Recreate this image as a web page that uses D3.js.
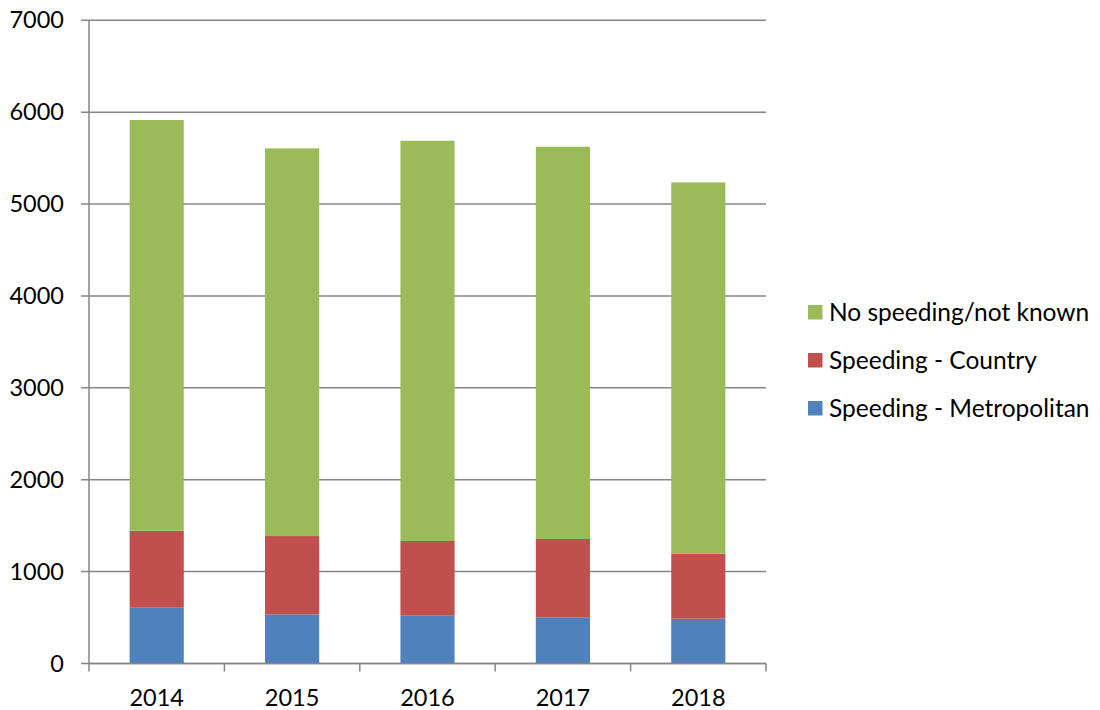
<!DOCTYPE html>
<html>
<head>
<meta charset="utf-8">
<script src="https://cdn.jsdelivr.net/npm/d3@7"></script>
<style>
  html, body { margin: 0; padding: 0; background: #fff; }
  svg text { font-family: Lato, "Open Sans", sans-serif; fill: #000; }
</style>
</head>
<body>
<svg id="chart" width="1100" height="710"></svg>
<script>
const years = ["2014", "2015", "2016", "2017", "2018"];
const metropolitan = [607, 535, 520, 503, 488];
const country = [838, 852, 813, 852, 707];
const noSpeeding = [4470, 4219, 4356, 4269, 4041];
const yTicks = [0, 1000, 2000, 3000, 4000, 5000, 6000, 7000];
const seriesNames = ["Speeding - Metropolitan", "Speeding - Country", "No speeding/not known"];
const seriesColors = ["#4F81BD", "#C0504D", "#9BBB59"];

const svg = d3.select("#chart");
const margin = { left: 89, right: 334, top: 20.3, bottom: 46.5 };
const W = 1100, H = 710;

const x = d3.scaleBand().domain(years).range([margin.left, W - margin.right]).paddingInner(0.6).paddingOuter(0.3);
const y = d3.scaleLinear().domain([0, 7000]).range([H - margin.bottom, margin.top]);

const rows = years.map((yr, i) => ({
  year: yr,
  "Speeding - Metropolitan": metropolitan[i],
  "Speeding - Country": country[i],
  "No speeding/not known": noSpeeding[i]
}));
const stack = d3.stack().keys(seriesNames)(rows);

// gridlines
const gridColor = "#868686";
svg.append("g").selectAll("line").data(yTicks).join("line")
  .attr("x1", margin.left - 8).attr("x2", W - margin.right)
  .attr("y1", d => y(d)).attr("y2", d => y(d))
  .attr("stroke", gridColor).attr("stroke-width", 1.5);

// bars
svg.append("g").selectAll("g").data(stack).join("g")
  .attr("fill", (d, i) => seriesColors[i])
  .selectAll("rect").data(d => d).join("rect")
  .attr("x", d => x(d.data.year))
  .attr("width", x.bandwidth())
  .attr("y", d => y(d[1]))
  .attr("height", d => y(d[0]) - y(d[1]));

// y axis line
svg.append("line")
  .attr("x1", margin.left).attr("x2", margin.left)
  .attr("y1", y(7000)).attr("y2", y(0))
  .attr("stroke", gridColor).attr("stroke-width", 1.5);

// x axis line & ticks at band boundaries
const step = x.step();
const boundaries = d3.range(years.length + 1).map(i => margin.left + i * step);
svg.append("line")
  .attr("x1", margin.left).attr("x2", W - margin.right)
  .attr("y1", y(0)).attr("y2", y(0))
  .attr("stroke", gridColor).attr("stroke-width", 1.5);
svg.append("g").selectAll("line").data(boundaries).join("line")
  .attr("x1", d => d).attr("x2", d => d)
  .attr("y1", y(0)).attr("y2", y(0) + 8)
  .attr("stroke", gridColor).attr("stroke-width", 1.5);

// y labels
svg.append("g").selectAll("text").data(yTicks).join("text")
  .attr("x", 64).attr("y", d => y(d) + 8)
  .attr("text-anchor", "end")
  .style("font-size", "23.5px")
  .text(d => d);

// x labels
svg.append("g").selectAll("text").data(years).join("text")
  .attr("x", d => x(d) + x.bandwidth() / 2).attr("y", 706)
  .attr("text-anchor", "middle")
  .style("font-size", "23.5px")
  .text(d => d);

// legend
const legendOrder = [2, 1, 0];
const lg = svg.append("g").selectAll("g").data(legendOrder).join("g")
  .attr("transform", (d, i) => `translate(808, ${305 + i * 48})`);
lg.append("rect").attr("width", 14.5).attr("height", 14.5).attr("fill", d => seriesColors[d]);
lg.append("text").attr("x", 21).attr("y", 15.5).style("font-size", "24.5px").text(d => seriesNames[d]);
</script>
</body>
</html>
